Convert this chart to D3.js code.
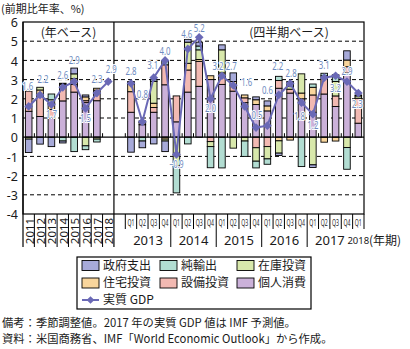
<!DOCTYPE html>
<html><head><meta charset="utf-8">
<script src="https://cdn.jsdelivr.net/npm/d3@7"></script>
<style>
html,body{margin:0;padding:0;background:#fff;}
svg{display:block;font-family:"Noto Sans CJK JP","Noto Sans",sans-serif;}
.num{font-family:"Noto Sans","Liberation Sans",sans-serif;}
</style></head>
<body>
<svg id="chart" width="410" height="349"></svg>
<script>
// ---------- DATA ----------
const years = ['2011','2012','2013','2014','2015','2016','2017','2018'];
const quarters = ['2013Q1','2013Q2','2013Q3','2013Q4','2014Q1','2014Q2','2014Q3','2014Q4',
  '2015Q1','2015Q2','2015Q3','2015Q4','2016Q1','2016Q2','2016Q3','2016Q4',
  '2017Q1','2017Q2','2017Q3','2017Q4','2018Q1'];
const quarterYears = ['2013','2014','2015','2016','2017','2018'];
const yTicks = [-4,-3,-2,-1,0,1,2,3,4,5,6];

// annual components (2011..2018), 2018 has no bars
const consA  = [1.35, 1.08, 1.0, 1.89, 2.35, 1.8, 1.9, null];
const equipA = [1.05, 1.1, 0.45, 0.75, 0.4, 0.1, 0.55, null];
const residA = [0.0, 0.28, 0.3, 0.12, 0.3, 0.2, 0.1, null];
const invA   = [-0.1, 0.14, 0.2, 0.05, 0.25, -0.45, -0.1, null];
const netxA  = [0.0, 0.0, 0.3, -0.2, -0.75, -0.2, -0.15, null];
const govA   = [-0.7, -0.36, -0.49, -0.1, 0.3, 0.1, 0.0, null];
const gdpA   = [1.6, 2.2, 1.7, 2.6, 2.9, 1.5, 2.3, 2.9];

// quarterly components (2013Q1..2018Q1)
const consQ  = [1.3, 0.65, 1.3, 2.73, 0.8, 2.35, 2.65, 3.0, 2.75, 2.4, 1.8, 1.7, 1.37, 2.55, 2.3, 2.0, 1.3, 2.25, 1.6, 3.35, 0.73];
const equipQ = [1.07, 0.12, 0.25, 1.04, 1.35, 1.15, 1.3, -0.23, 0.4, 0.3, 0.25, -0.55, -0.49, 0.4, 0.2, 0.0, 0.9, 0.95, 0.55, 0.32, 1.3];
const residQ = [0.38, 0.08, 0.22, -0.1, 0.0, 0.35, 0.1, 0.2, 0.2, 0.2, 0.15, 0.25, 0.26, -0.19, -0.15, 0.3, 0.4, -0.26, -0.2, 0.35, 0.0];
const invQ   = [0.15, 0.0, 1.13, -0.1, -1.5, 1.1, 0.5, -0.26, 1.2, -0.57, -0.2, -0.7, -0.64, -0.64, 0.15, 1.0, -1.44, 0.0, 0.75, -0.54, 0.12];
const netxQ  = [0.0, -0.2, 0.09, 0.22, -1.4, -0.35, 0.2, -1.1, -1.6, 0.0, -0.8, -0.35, -0.28, 0.22, 0.25, -1.53, 0.17, 0.13, 0.35, -1.13, 0.05];
const govQ   = [-0.78, -0.35, -0.35, -0.55, 0.0, 0.15, 0.2, 0.0, 0.26, 0.45, 0.0, 0.15, 0.26, -0.12, 0.0, 0.0, -0.14, 0.0, 0.0, 0.48, 0.0];
const gdpQ   = [2.8, 0.8, 3.1, 4.0, -0.9, 4.6, 5.2, 2.0, 3.2, 2.7, 1.6, 0.5, 0.6, 2.2, 2.8, 1.8, 1.2, 3.1, 3.2, 2.9, 2.3];

const seriesNames = ['個人消費','設備投資','住宅投資','在庫投資','純輸出','政府支出'];
const legendOrder = ['政府支出','純輸出','在庫投資','住宅投資','設備投資','個人消費'];

// ---------- STYLE / LAYOUT ----------
const colors = {'個人消費':'#cbb1d9','設備投資':'#f2b9b2','住宅投資':'#f8d59c',
  '在庫投資':'#d8e8ab','純輸出':'#b2ddd2','政府支出':'#a7aad9'};
const lineColor = '#6a69b6';
const labelColor = '#6e8bc0';
// label offsets (px, label centre relative to point): negative = above
const labelShiftA = [[-1,-20],[3,-16],[0,10],[0,-12],[0,-21],[0,10],[0,-14],[3,-12]];
const labelShiftQ = [[0,-12],[0,-28],[-1,-12],[0,-9],[0,10],[-1,-15],[0,-9],[0,9],[-4,-10],[-2,-19],[2,-24],[1,-12],
  [0,-35],[-1,-29],[1,-10],[-2,14],[0,11],[0,-12],[0,12],[0,-10],[-1,11]];

const svg = d3.select('#chart');
const L = 23, R = 364, T = 22, B = 214, AXB = 247;

const keysA = years.map(y => 'Y' + y);
const domain = [...keysA, 'gap', ...quarters];
const x = d3.scaleBand().domain(domain).range([L, R]);
const y = d3.scaleLinear().domain([-4, 6]).range([B, T]);
const bw = x.bandwidth() * 0.58;

// build rows
const comps = {
  '個人消費':[...consA,...consQ], '設備投資':[...equipA,...equipQ], '住宅投資':[...residA,...residQ],
  '在庫投資':[...invA,...invQ], '純輸出':[...netxA,...netxQ], '政府支出':[...govA,...govQ]
};
const periodKeys = [...keysA, ...quarters];
const rows = periodKeys.map((k, i) => {
  const r = {key: k};
  seriesNames.forEach(s => r[s] = comps[s][i] == null ? 0 : comps[s][i]);
  return r;
});
const stack = d3.stack().keys(seriesNames).offset(d3.stackOffsetDiverging)(rows);

// gridlines
const g = svg.append('g');
yTicks.forEach(t => {
  if (t === -4 || t === 6 || t === 0) return;
  g.append('line').attr('x1', L).attr('x2', R).attr('y1', y(t)).attr('y2', y(t))
    .attr('stroke', '#000').attr('stroke-width', 1).attr('stroke-dasharray', '4,3');
});

// bars
stack.forEach(layer => {
  svg.append('g').selectAll('rect').data(layer.filter(d => Math.abs(d[1] - d[0]) > 0.001)).join('rect')
    .attr('x', d => x(d.data.key) + (x.bandwidth() - bw) / 2)
    .attr('y', d => y(Math.max(d[0], d[1])))
    .attr('width', bw)
    .attr('height', d => Math.abs(y(d[0]) - y(d[1])))
    .attr('fill', colors[layer.key])
    .attr('stroke', '#000').attr('stroke-width', 0.9);
});

// zero line and ticks
svg.append('line').attr('x1', L).attr('x2', R).attr('y1', y(0)).attr('y2', y(0))
  .attr('stroke', '#000').attr('stroke-width', 1.2);
const boundaries = [];
for (let i = 1; i < keysA.length; i++) boundaries.push(x(keysA[i]));
quarters.forEach((q, i) => { if (i > 0) boundaries.push(x(q)); });
boundaries.push(x(quarters[0]));
boundaries.forEach(bx => svg.append('line').attr('x1', bx).attr('x2', bx)
  .attr('y1', y(0)).attr('y2', y(0) - 4).attr('stroke', '#000').attr('stroke-width', 1));

// frame
svg.append('rect').attr('x', L).attr('y', T).attr('width', R - L).attr('height', B - T)
  .attr('fill', 'none').attr('stroke', '#000').attr('stroke-width', 1.2);
svg.append('line').attr('x1', L).attr('x2', L).attr('y1', T).attr('y2', AXB).attr('stroke', '#000').attr('stroke-width', 1.2);
const divX = x('gap');
svg.append('line').attr('x1', divX).attr('x2', divX).attr('y1', T).attr('y2', AXB).attr('stroke', '#000').attr('stroke-width', 1.2);

// annual x labels (rotated) with separators
keysA.forEach((k, i) => {
  if (i > 0) svg.append('line').attr('x1', x(k)).attr('x2', x(k)).attr('y1', B).attr('y2', AXB)
    .attr('stroke', '#000').attr('stroke-width', 1);
  svg.append('text').attr('class', 'num')
    .attr('transform', `translate(${x(k) + x.bandwidth() / 2 + 0.5},231) rotate(-90)`)
    .attr('text-anchor', 'middle').attr('dominant-baseline', 'central')
    .attr('font-size', 11.5)
    .attr('fill', '#1a1a1a').text(years[i]);
});

// quarterly labels
quarters.forEach((q, i) => {
  const bx = x(q);
  const isYearStart = q.endsWith('Q1') && i > 0 && !q.startsWith('2018');
  svg.append('line').attr('x1', bx).attr('x2', bx).attr('y1', B)
    .attr('y2', isYearStart ? AXB : 229).attr('stroke', '#000').attr('stroke-width', 1);
  svg.append('text').attr('class', 'num').attr('x', bx + x.bandwidth() / 2).attr('y', 225.5)
    .attr('text-anchor', 'middle').attr('font-size', 9)
    .attr('textLength', 7).attr('lengthAdjust', 'spacingAndGlyphs')
    .attr('fill', '#1a1a1a').text(q.slice(4));
});
svg.append('line').attr('x1', R).attr('x2', R).attr('y1', B).attr('y2', 229).attr('stroke', '#000').attr('stroke-width', 1);

quarterYears.forEach(yr => {
  const qs = quarters.filter(q => q.startsWith(yr));
  const x0 = x(qs[0]), x1 = x(qs[qs.length - 1]) + x.bandwidth();
  const last = yr === '2018';
  svg.append('text').attr('class', 'num').attr('x', (x0 + x1) / 2).attr('y', last ? 244 : 245)
    .attr('text-anchor', 'middle').attr('font-size', last ? 9.5 : 13)
    .attr('fill', '#1a1a1a').text(yr);
});
svg.append('text').attr('x', 369).attr('y', 245).attr('font-size', 12).attr('fill', '#1a1a1a').text('(年期)');

// y axis labels
yTicks.forEach(t => {
  svg.append('text').attr('class', 'num').attr('x', 18).attr('y', y(t)).attr('dy', '0.42em')
    .attr('text-anchor', 'end').attr('font-size', 12.5).attr('fill', '#1a1a1a').text(t);
});
svg.append('text').attr('x', 1).attr('y', 12.8).attr('font-size', 11).attr('fill', '#1a1a1a').text('(前期比年率、%)');
svg.append('text').attr('x', 68.5).attr('y', 37).attr('text-anchor', 'middle').attr('font-size', 12).attr('fill', '#1a1a1a').text('(年ベース)');
svg.append('text').attr('x', 289).attr('y', 37).attr('text-anchor', 'middle').attr('font-size', 12).attr('fill', '#1a1a1a').text('(四半期ベース)');

// GDP lines
const line = d3.line().x(d => d.x).y(d => d.y);
const ptsA = gdpA.map((v, i) => ({x: x(keysA[i]) + x.bandwidth() / 2, y: y(v), v, s: labelShiftA[i]}));
const ptsQ = gdpQ.map((v, i) => ({x: x(quarters[i]) + x.bandwidth() / 2, y: y(v), v, s: labelShiftQ[i]}));
[ptsA, ptsQ].forEach(pts => {
  svg.append('path').attr('d', line(pts)).attr('fill', 'none').attr('stroke', lineColor).attr('stroke-width', 2);
  svg.append('g').selectAll('path').data(pts).join('path')
    .attr('d', d3.symbol().type(d3.symbolSquare).size(38))
    .attr('transform', d => `translate(${d.x},${d.y}) rotate(45)`)
    .attr('fill', lineColor);
});
[...ptsA, ...ptsQ].forEach(d => {
  const txt = d3.format('.1f')(d.v);
  svg.append('text').attr('class', 'num').attr('x', d.x + d.s[0]).attr('y', d.y + d.s[1]).attr('dy', '0.36em')
    .attr('text-anchor', 'middle').attr('font-size', 10.5)
    .attr('textLength', txt.length > 3 ? 14 : 11).attr('lengthAdjust', 'spacingAndGlyphs')
    .attr('fill', labelColor).attr('stroke', '#fff').attr('stroke-width', 2.2)
    .attr('paint-order', 'stroke').attr('stroke-linejoin', 'round')
    .text(txt);
});

// legend
const lg = svg.append('g');
lg.append('rect').attr('x', 77).attr('y', 257).attr('width', 234).attr('height', 52)
  .attr('fill', '#fff').attr('stroke', '#000').attr('stroke-width', 1.2);
const colX = [82, 160, 237], rowY = [265.5, 283, 300];
legendOrder.forEach((name, i) => {
  const cx = colX[i % 3], cy = rowY[Math.floor(i / 3)];
  lg.append('rect').attr('x', cx).attr('y', cy - 5).attr('width', 17).attr('height', 10)
    .attr('fill', colors[name]).attr('stroke', '#000').attr('stroke-width', 0.9);
  lg.append('text').attr('x', cx + 21).attr('y', cy).attr('dy', '0.36em').attr('font-size', 12)
    .attr('fill', '#1a1a1a').text(name);
});
lg.append('line').attr('x1', 82).attr('x2', 99).attr('y1', rowY[2]).attr('y2', rowY[2])
  .attr('stroke', lineColor).attr('stroke-width', 2);
lg.append('path').attr('d', d3.symbol().type(d3.symbolSquare).size(30))
  .attr('transform', `translate(90.5,${rowY[2]}) rotate(45)`).attr('fill', lineColor);
lg.append('text').attr('x', 103).attr('y', rowY[2]).attr('dy', '0.36em').attr('font-size', 12)
  .attr('fill', '#1a1a1a').text('実質 GDP');

// notes
svg.append('text').attr('x', 2).attr('y', 326.5).attr('font-size', 11.3).attr('fill', '#1a1a1a')
  .text('備考：季節調整値。2017 年の実質 GDP 値は IMF 予測値。');
svg.append('text').attr('x', 2).attr('y', 343).attr('font-size', 11.3).attr('fill', '#1a1a1a')
  .text('資料：米国商務省、IMF「World Economic Outlook」から作成。');
</script>
</body></html>
